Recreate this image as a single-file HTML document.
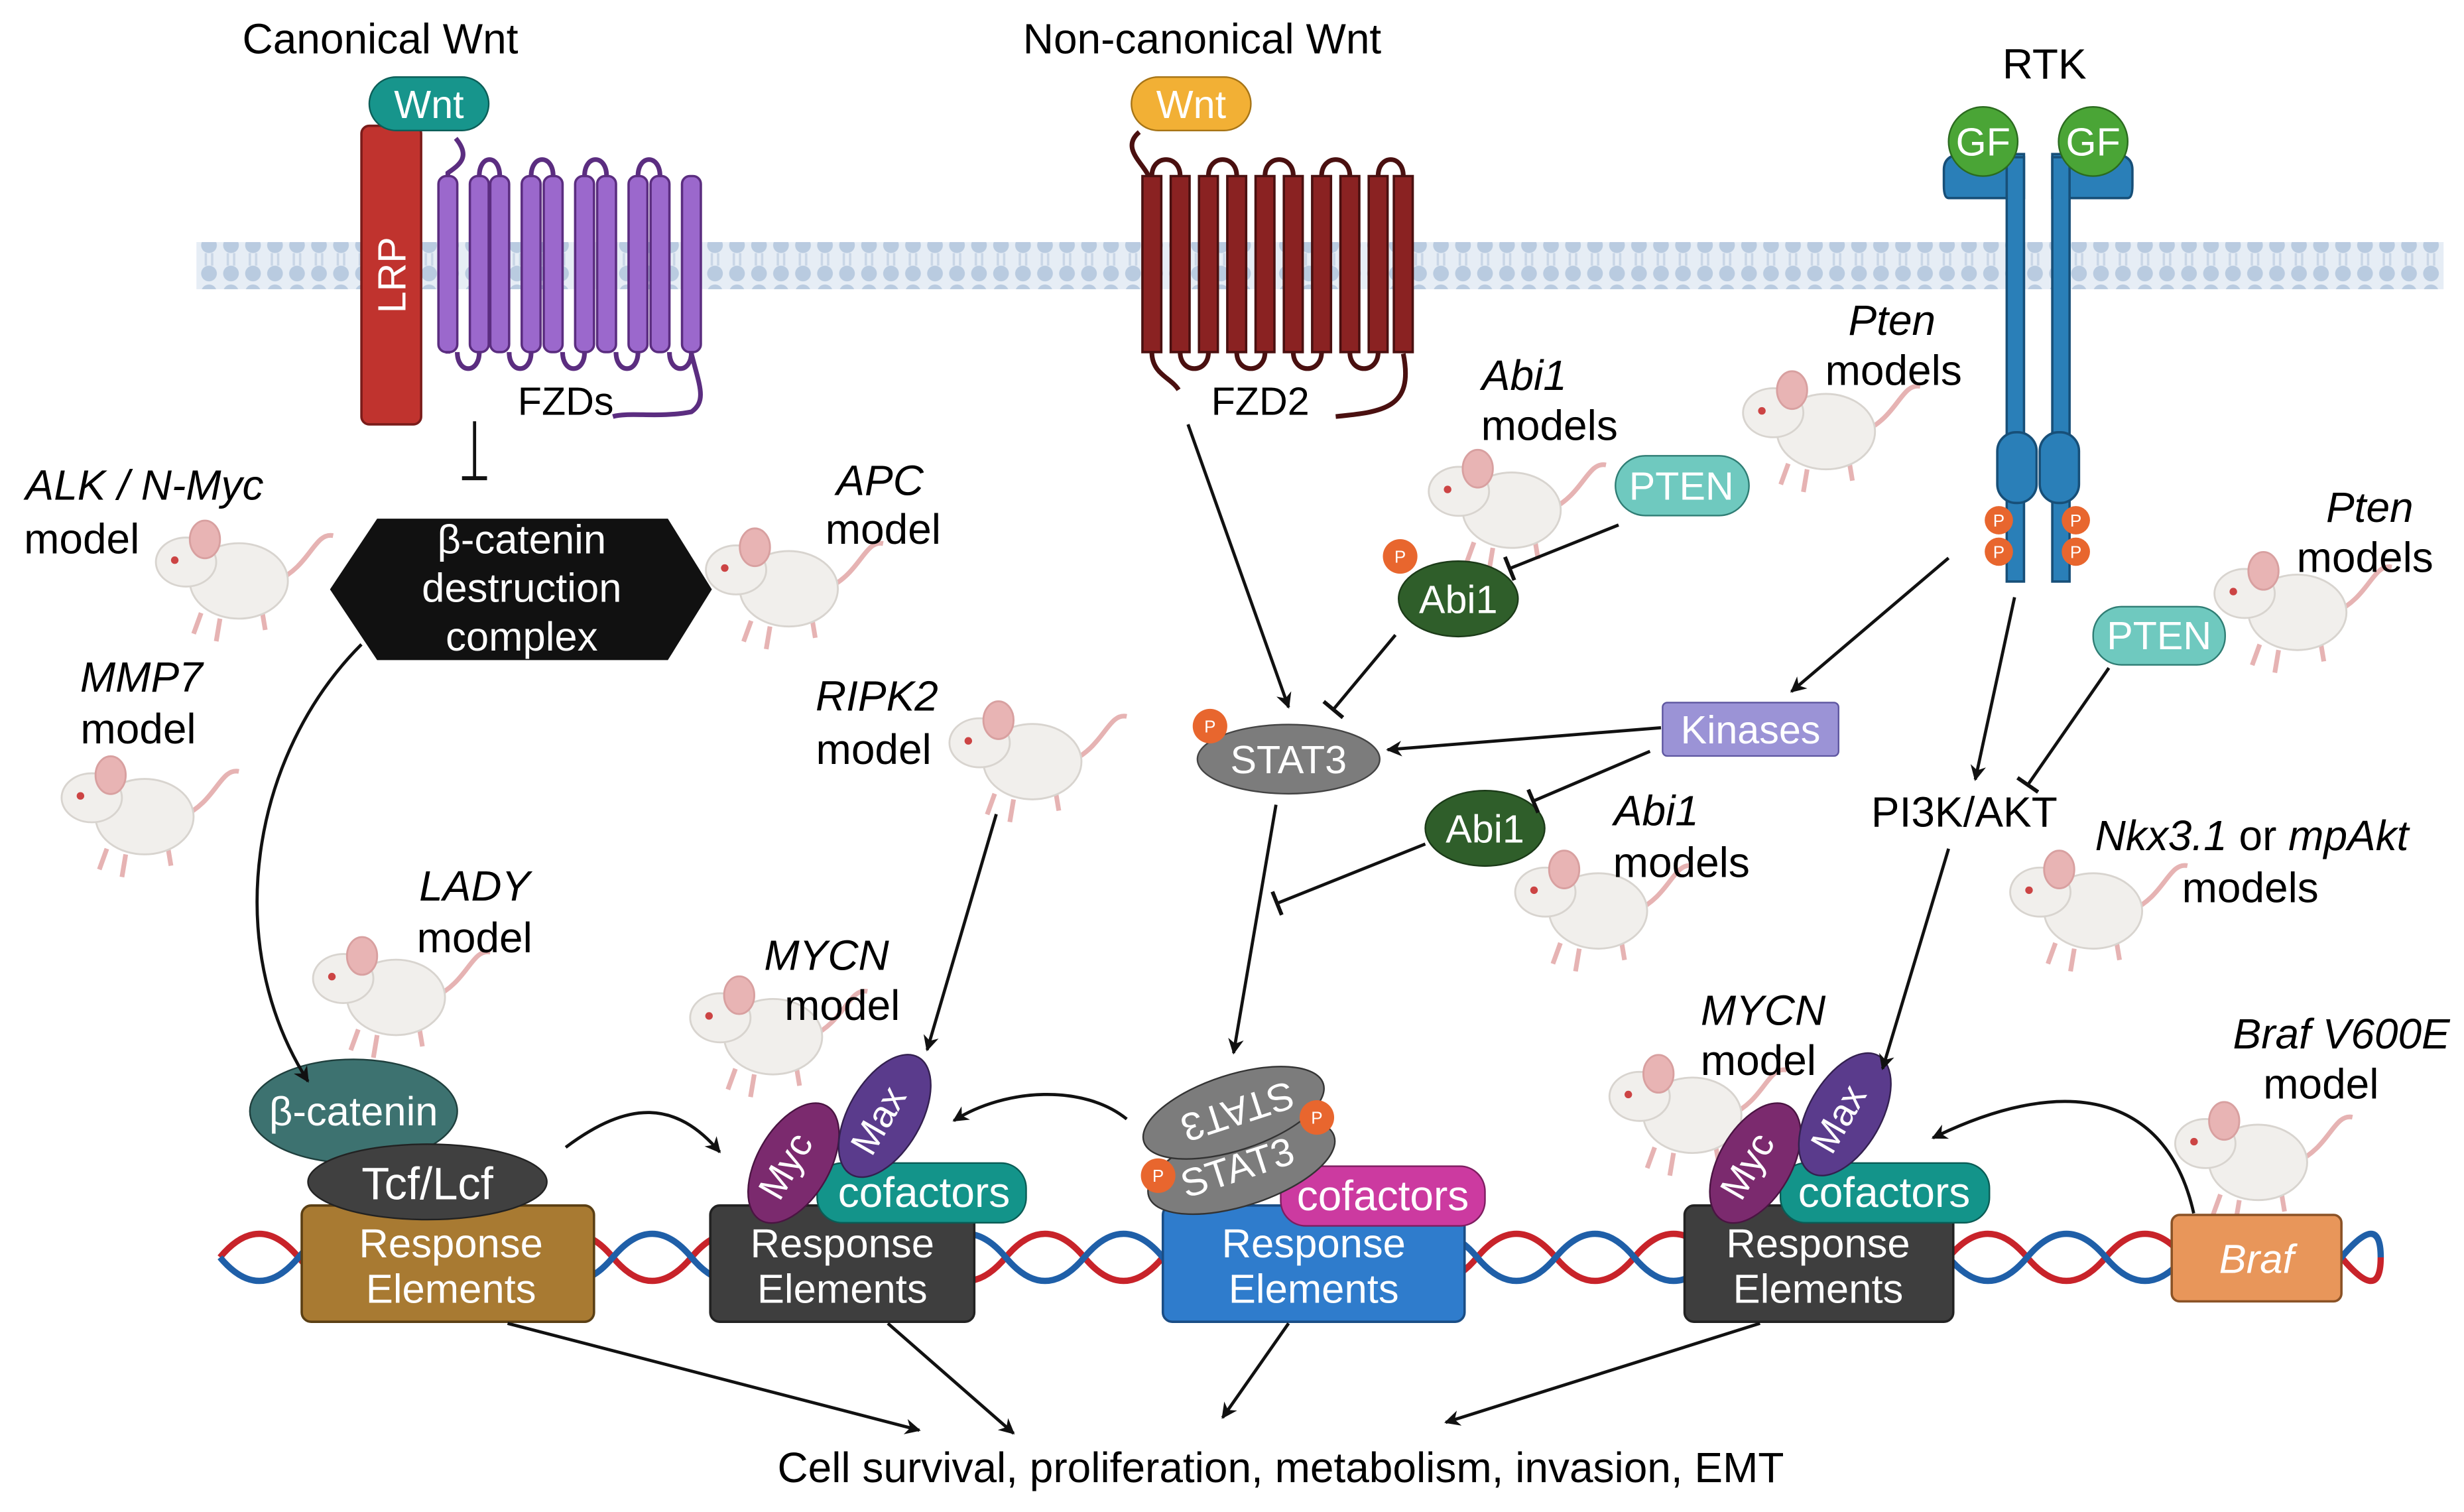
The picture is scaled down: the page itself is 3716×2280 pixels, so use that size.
<!DOCTYPE html>
<html><head><meta charset="utf-8"><style>
html,body{margin:0;padding:0;background:#fff}
svg{display:block}
text{font-family:"Liberation Sans",sans-serif}
</style></head><body>
<svg width="3716" height="2280" viewBox="0 0 1568 962" xmlns="http://www.w3.org/2000/svg">
<defs>
<marker id="ar" markerWidth="10" markerHeight="10" refX="9" refY="5" orient="auto" markerUnits="userSpaceOnUse"><path d="M0,0 L10,5 L0,10 L3,5 z" fill="#111"/></marker>
<marker id="inh" markerWidth="4" markerHeight="16" refX="2" refY="8" orient="auto" markerUnits="userSpaceOnUse"><rect x="0" y="0" width="2.5" height="16" fill="#111"/></marker>
<pattern id="mem" width="14" height="30" patternUnits="userSpaceOnUse"><rect width="14" height="30" fill="#e6edf5"/><circle cx="7" cy="6" r="5" fill="#b9cbe0"/><circle cx="7" cy="24" r="5" fill="#b9cbe0"/><line x1="5" y1="11" x2="5" y2="19" stroke="#c9d6e6" stroke-width="1.5"/><line x1="9" y1="11" x2="9" y2="19" stroke="#c9d6e6" stroke-width="1.5"/></pattern>
<g id="m0">
<path d="M-10,25 L-14,36 M0,28 L-2,40 M22,22 L24,34" stroke="#e6b3b3" stroke-width="2.5" fill="none"/>
<path d="M30,8 C48,0 50,-18 60,-16" stroke="#e6b3b3" stroke-width="2.5" fill="none"/>
<ellipse cx="10" cy="8" rx="26" ry="20" fill="#f1efec" stroke="#d8d4cf"/>
<ellipse cx="-18" cy="-2" rx="16" ry="13" fill="#f1efec" stroke="#d8d4cf"/>
<ellipse cx="-8" cy="-14" rx="8" ry="10" fill="#e8b4b4" stroke="#d8a0a0"/>
<circle cx="-24" cy="-3" r="2" fill="#c44"/>
</g>
<g id="mouse" transform="scale(1.2)"><use href="#m0"/></g>
</defs>

<rect x="125" y="154" width="1430" height="30" fill="url(#mem)"/>

<text x="242" y="34" font-size="27" text-anchor="middle">Canonical Wnt</text>
<text x="765" y="34" font-size="27" text-anchor="middle">Non-canonical Wnt</text>
<text x="1301" y="50" font-size="27" text-anchor="middle">RTK</text>

<rect x="230" y="80" width="38" height="190" rx="5" fill="#c0332e" stroke="#7a1c1a" stroke-width="1.5"/>
<text transform="translate(258,175) rotate(-90)" font-size="25" fill="#fff" text-anchor="middle">LRP</text>
<path d="M290,88 C300,100 292,105 285,110 L285,225 M440,225 C445,245 450,255 440,262 C420,266 400,262 390,265" fill="none" stroke="#5b2d80" stroke-width="3"/>
<path d="M305,112 C305,98 318,98 318,112 M338,112 C338,98 352,98 352,112 M372,112 C372,98 386,98 386,112 M406,112 C406,98 420,98 420,112 M291,224 C291,238 305,238 305,224 M324,224 C324,238 338,238 338,224 M358,224 C358,238 372,238 372,224 M392,224 C392,238 406,238 406,224 M426,224 C426,238 440,238 440,224" fill="none" stroke="#5b2d80" stroke-width="3"/>
<g fill="#9b68cc" stroke="#5b2d80" stroke-width="1.5">
<rect x="279" y="112" width="12" height="112" rx="5"/><rect x="299" y="112" width="12" height="112" rx="5"/><rect x="312" y="112" width="12" height="112" rx="5"/><rect x="332" y="112" width="12" height="112" rx="5"/><rect x="346" y="112" width="12" height="112" rx="5"/><rect x="366" y="112" width="12" height="112" rx="5"/><rect x="380" y="112" width="12" height="112" rx="5"/><rect x="400" y="112" width="12" height="112" rx="5"/><rect x="414" y="112" width="12" height="112" rx="5"/><rect x="434" y="112" width="12" height="112" rx="5"/>
</g>
<rect x="235" y="49" width="76" height="34" rx="17" fill="#17958c" stroke="#0c5e58"/>
<text x="273" y="75" font-size="25" fill="#fff" text-anchor="middle">Wnt</text>
<text x="360" y="264" font-size="25" text-anchor="middle">FZDs</text>

<path d="M725,84 C712,95 730,105 732,115 M893,225 C900,260 880,262 850,265" fill="none" stroke="#4a1010" stroke-width="3"/>
<g fill="#8a2222" stroke="#4a1010" stroke-width="1.5">
<path d="M727,112 h12 v112 h-12z M745,112 h12 v112 h-12z M763,112 h12 v112 h-12z M781,112 h12 v112 h-12z M799,112 h12 v112 h-12z M817,112 h12 v112 h-12z M835,112 h12 v112 h-12z M853,112 h12 v112 h-12z M871,112 h12 v112 h-12z M887,112 h12 v112 h-12z"/>
</g>
<path d="M733,112 C733,98 751,98 751,112 M769,112 C769,98 787,98 787,112 M805,112 C805,98 823,98 823,112 M841,112 C841,98 859,98 859,112 M877,112 C877,98 893,98 893,112 M751,224 C751,238 769,238 769,224 M787,224 C787,238 805,238 805,224 M823,224 C823,238 841,238 841,224 M859,224 C859,238 877,238 877,224 M733,224 C733,238 745,240 750,248" fill="none" stroke="#4a1010" stroke-width="3"/>
<rect x="720" y="49" width="76" height="34" rx="17" fill="#f2b035" stroke="#a67416"/>
<text x="758" y="75" font-size="25" fill="#fff" text-anchor="middle">Wnt</text>
<text x="802" y="264" font-size="25" text-anchor="middle">FZD2</text>

<g fill="#2a7fb8" stroke="#174f78" stroke-width="1.5">
<path d="M1237,108 Q1237,98 1250,98 L1288,98 L1288,126 L1240,126 Q1237,126 1237,118z"/>
<path d="M1357,108 Q1357,98 1344,98 L1306,98 L1306,126 L1354,126 Q1357,126 1357,118z"/>
<rect x="1277" y="100" width="11" height="270"/>
<rect x="1306" y="100" width="11" height="270"/>
<rect x="1271" y="275" width="25" height="45" rx="12"/>
<rect x="1298" y="275" width="25" height="45" rx="12"/>
</g>
<circle cx="1262" cy="90" r="22" fill="#4aa536" stroke="#2b6b1f"/>
<circle cx="1332" cy="90" r="22" fill="#4aa536" stroke="#2b6b1f"/>
<text x="1262" y="99" font-size="25" fill="#fff" text-anchor="middle">GF</text>
<text x="1332" y="99" font-size="25" fill="#fff" text-anchor="middle">GF</text>
<g fill="#e8662e"><circle cx="1272" cy="331" r="9"/><circle cx="1272" cy="351" r="9"/><circle cx="1321" cy="331" r="9"/><circle cx="1321" cy="351" r="9"/></g>
<g font-size="11" fill="#fff" text-anchor="middle"><text x="1272" y="335">P</text><text x="1272" y="355">P</text><text x="1321" y="335">P</text><text x="1321" y="355">P</text></g>

<polygon points="240,330 425,330 453,375 425,420 240,420 210,375" fill="#111"/>
<text x="332" y="352" font-size="26" fill="#fff" text-anchor="middle">β-catenin</text>
<text x="332" y="383" font-size="26" fill="#fff" text-anchor="middle">destruction</text>
<text x="332" y="414" font-size="26" fill="#fff" text-anchor="middle">complex</text>

<use href="#mouse" x="140" y="360"/>
<use href="#mouse" x="490" y="365"/>
<use href="#mouse" x="80" y="510"/>
<use href="#mouse" x="240" y="625"/>
<use href="#mouse" x="480" y="650"/>
<use href="#mouse" x="645" y="475"/>
<use href="#mouse" x="950" y="315"/>
<use href="#mouse" x="1150" y="265"/>
<use href="#mouse" x="1005" y="570"/>
<use href="#mouse" x="1450" y="380"/>
<use href="#mouse" x="1320" y="570"/>
<use href="#mouse" x="1065" y="700"/>
<use href="#mouse" x="1425" y="730"/>

<g font-size="27">
<text x="92" y="318" font-style="italic" text-anchor="middle">ALK / N-Myc</text>
<text x="52" y="352" text-anchor="middle">model</text>
<text x="560" y="315" font-style="italic" text-anchor="middle">APC</text>
<text x="562" y="346" text-anchor="middle">model</text>
<text x="90" y="440" font-style="italic" text-anchor="middle">MMP7</text>
<text x="88" y="473" text-anchor="middle">model</text>
<text x="302" y="573" font-style="italic" text-anchor="middle">LADY</text>
<text x="302" y="606" text-anchor="middle">model</text>
<text x="558" y="452" font-style="italic" text-anchor="middle">RIPK2</text>
<text x="556" y="486" text-anchor="middle">model</text>
<text x="526" y="617" font-style="italic" text-anchor="middle">MYCN</text>
<text x="536" y="649" text-anchor="middle">model</text>
<text x="970" y="248" font-style="italic" text-anchor="middle">Abi1</text>
<text x="986" y="280" text-anchor="middle">models</text>
<text x="1204" y="213" font-style="italic" text-anchor="middle">Pten</text>
<text x="1205" y="245" text-anchor="middle">models</text>
<text x="1054" y="525" font-style="italic" text-anchor="middle">Abi1</text>
<text x="1070" y="558" text-anchor="middle">models</text>
<text x="1508" y="332" font-style="italic" text-anchor="middle">Pten</text>
<text x="1505" y="364" text-anchor="middle">models</text>
<text x="1433" y="541" text-anchor="middle"><tspan font-style="italic">Nkx3.1</tspan> or <tspan font-style="italic">mpAkt</tspan></text>
<text x="1432" y="574" text-anchor="middle">models</text>
<text x="1122" y="652" font-style="italic" text-anchor="middle">MYCN</text>
<text x="1119" y="684" text-anchor="middle">model</text>
<text x="1490" y="667" font-style="italic" text-anchor="middle">Braf V600E</text>
<text x="1477" y="699" text-anchor="middle">model</text>
<text x="1250" y="526" text-anchor="middle">PI3K/AKT</text>
</g>

<ellipse cx="820" cy="483" rx="58" ry="22" fill="#7c7c7c" stroke="#444"/>
<text x="820" y="492" font-size="25" fill="#fff" text-anchor="middle">STAT3</text>
<circle cx="770" cy="462" r="11" fill="#e8662e"/><text x="770" y="466" font-size="11" fill="#fff" text-anchor="middle">P</text>
<rect x="1058" y="447" width="112" height="34" rx="3" fill="#9b93d6" stroke="#5e56a0"/>
<text x="1114" y="473" font-size="25" fill="#fff" text-anchor="middle">Kinases</text>
<rect x="1028" y="290" width="85" height="38" rx="19" fill="#6fc9bf" stroke="#2f7d74"/>
<text x="1070" y="318" font-size="25" fill="#fff" text-anchor="middle">PTEN</text>
<rect x="1332" y="386" width="84" height="37" rx="18" fill="#6fc9bf" stroke="#2f7d74"/>
<text x="1374" y="413" font-size="25" fill="#fff" text-anchor="middle">PTEN</text>
<ellipse cx="928" cy="381" rx="38" ry="24" fill="#2f5e2a" stroke="#1b3a18"/>
<text x="928" y="390" font-size="25" fill="#fff" text-anchor="middle">Abi1</text>
<circle cx="891" cy="354" r="11" fill="#e8662e"/><text x="891" y="358" font-size="11" fill="#fff" text-anchor="middle">P</text>
<ellipse cx="945" cy="527" rx="38" ry="24" fill="#2f5e2a" stroke="#1b3a18"/>
<text x="945" y="536" font-size="25" fill="#fff" text-anchor="middle">Abi1</text>

<path d="M140,790 Q165,760 190,790 T240,790 T290,790 T340,790 T390,790 T440,790 T490,790 T540,790 T590,790 T640,790 T690,790 T740,790 T790,790 T840,790 T890,790 T940,790 T990,790 T1040,790 T1090,790 T1140,790 T1190,790 T1240,790 T1290,790 T1340,790 T1390,790 T1440,790 T1490,790 T1515,790" fill="none" stroke="#c8232a" stroke-width="4" transform="translate(0,10)"/>
<path d="M140,790 Q165,820 190,790 T240,790 T290,790 T340,790 T390,790 T440,790 T490,790 T540,790 T590,790 T640,790 T690,790 T740,790 T790,790 T840,790 T890,790 T940,790 T990,790 T1040,790 T1090,790 T1140,790 T1190,790 T1240,790 T1290,790 T1340,790 T1390,790 T1440,790 T1490,790 T1515,790" fill="none" stroke="#1f5fa8" stroke-width="4" transform="translate(0,10)"/>

<rect x="192" y="767" width="186" height="74" rx="6" fill="#a87a32" stroke="#5a3f14" stroke-width="1.5"/>
<text x="287" y="800" font-size="26" fill="#fff" text-anchor="middle">Response</text>
<text x="287" y="829" font-size="26" fill="#fff" text-anchor="middle">Elements</text>
<ellipse cx="225" cy="707" rx="66" ry="33" fill="#3d7270" stroke="#1f3f3d"/>
<ellipse cx="272" cy="752" rx="76" ry="24" fill="#404040" stroke="#222"/>
<text x="225" y="716" font-size="26" fill="#fff" text-anchor="middle">β-catenin</text>
<text x="272" y="763" font-size="29" fill="#fff" text-anchor="middle">Tcf/Lcf</text>

<rect x="452" y="767" width="168" height="74" rx="6" fill="#3e3e3e" stroke="#222" stroke-width="1.5"/>
<text x="536" y="800" font-size="26" fill="#fff" text-anchor="middle">Response</text>
<text x="536" y="829" font-size="26" fill="#fff" text-anchor="middle">Elements</text>
<rect x="520" y="740" width="133" height="38" rx="16" fill="#13948a" stroke="#0a5c55"/>
<text x="588" y="768" font-size="27" fill="#fff" text-anchor="middle">cofactors</text>
<ellipse cx="505" cy="740" rx="23" ry="42" transform="rotate(30 505 740)" fill="#7b2a6e" stroke="#4a1442"/>
<text transform="translate(507,746) rotate(-60)" font-size="24" fill="#fff" text-anchor="middle">Myc</text>
<ellipse cx="563" cy="710" rx="23" ry="43" transform="rotate(30 563 710)" fill="#5a3b8c" stroke="#33204f"/>
<text transform="translate(566,717) rotate(-60)" font-size="24" fill="#fff" text-anchor="middle">Max</text>

<rect x="740" y="767" width="192" height="74" rx="6" fill="#2f7ccc" stroke="#1a4d85" stroke-width="1.5"/>
<text x="836" y="800" font-size="26" fill="#fff" text-anchor="middle">Response</text>
<text x="836" y="829" font-size="26" fill="#fff" text-anchor="middle">Elements</text>
<rect x="815" y="742" width="130" height="38" rx="16" fill="#cc3aa0" stroke="#7d1e60"/>
<text x="880" y="770" font-size="27" fill="#fff" text-anchor="middle">cofactors</text>
<ellipse cx="790" cy="742" rx="62" ry="25" transform="rotate(-18 790 742)" fill="#7c7c7c" stroke="#333"/>
<text transform="translate(790,751) rotate(-18)" font-size="25" fill="#fff" text-anchor="middle">STAT3</text>
<ellipse cx="785" cy="708" rx="60" ry="24" transform="rotate(-18 785 708)" fill="#7c7c7c" stroke="#333"/>
<text transform="translate(785,699) rotate(162)" font-size="25" fill="#fff" text-anchor="middle">STAT3</text>
<circle cx="737" cy="748" r="11" fill="#e8662e"/><text x="737" y="752" font-size="11" fill="#fff" text-anchor="middle">P</text>
<circle cx="838" cy="711" r="11" fill="#e8662e"/><text x="838" y="715" font-size="11" fill="#fff" text-anchor="middle">P</text>

<rect x="1072" y="767" width="171" height="74" rx="6" fill="#3e3e3e" stroke="#222" stroke-width="1.5"/>
<text x="1157" y="800" font-size="26" fill="#fff" text-anchor="middle">Response</text>
<text x="1157" y="829" font-size="26" fill="#fff" text-anchor="middle">Elements</text>
<rect x="1133" y="740" width="133" height="38" rx="16" fill="#13948a" stroke="#0a5c55"/>
<text x="1199" y="768" font-size="27" fill="#fff" text-anchor="middle">cofactors</text>
<ellipse cx="1117" cy="740" rx="23" ry="42" transform="rotate(30 1117 740)" fill="#7b2a6e" stroke="#4a1442"/>
<text transform="translate(1119,746) rotate(-60)" font-size="24" fill="#fff" text-anchor="middle">Myc</text>
<ellipse cx="1174" cy="709" rx="23" ry="43" transform="rotate(30 1174 709)" fill="#5a3b8c" stroke="#33204f"/>
<text transform="translate(1177,716) rotate(-60)" font-size="24" fill="#fff" text-anchor="middle">Max</text>

<rect x="1382" y="773" width="108" height="55" rx="5" fill="#e8965a" stroke="#8a5226" stroke-width="1.5"/>
<text x="1436" y="810" font-size="26" fill="#fff" font-style="italic" text-anchor="middle">Braf</text>

<g fill="none" stroke="#111" stroke-width="2">
<path d="M302,268 L302,305" marker-end="url(#inh)"/>
<path d="M230,410 C160,480 140,600 196,688" marker-end="url(#ar)"/>
<path d="M360,730 C400,700 430,700 458,733" marker-end="url(#ar)"/>
<path d="M634,518 L590,668" marker-end="url(#ar)"/>
<path d="M717,712 C690,690 640,692 607,713" marker-end="url(#ar)"/>
<path d="M756,270 L820,450" marker-end="url(#ar)"/>
<path d="M1030,334 L960,362" marker-end="url(#inh)"/>
<path d="M888,404 L848,452" marker-end="url(#inh)"/>
<path d="M1057,463 L883,477" marker-end="url(#ar)"/>
<path d="M1240,355 L1140,440" marker-end="url(#ar)"/>
<path d="M1282,380 L1257,496" marker-end="url(#ar)"/>
<path d="M1342,425 L1290,500" marker-end="url(#inh)"/>
<path d="M907,537 L812,575" marker-end="url(#inh)"/>
<path d="M1050,478 L975,510" marker-end="url(#inh)"/>
<path d="M812,512 L785,670" marker-end="url(#ar)"/>
<path d="M1240,540 L1198,680" marker-end="url(#ar)"/>
<path d="M1396,772 C1380,700 1320,680 1230,724" marker-end="url(#ar)"/>
<path d="M323,842 L585,910" marker-end="url(#ar)"/>
<path d="M565,842 L645,912" marker-end="url(#ar)"/>
<path d="M820,842 L778,902" marker-end="url(#ar)"/>
<path d="M1120,842 L920,905" marker-end="url(#ar)"/>
</g>

<text x="815" y="943" font-size="27" text-anchor="middle">Cell survival, proliferation, metabolism, invasion, EMT</text>
</svg>
</body></html>
